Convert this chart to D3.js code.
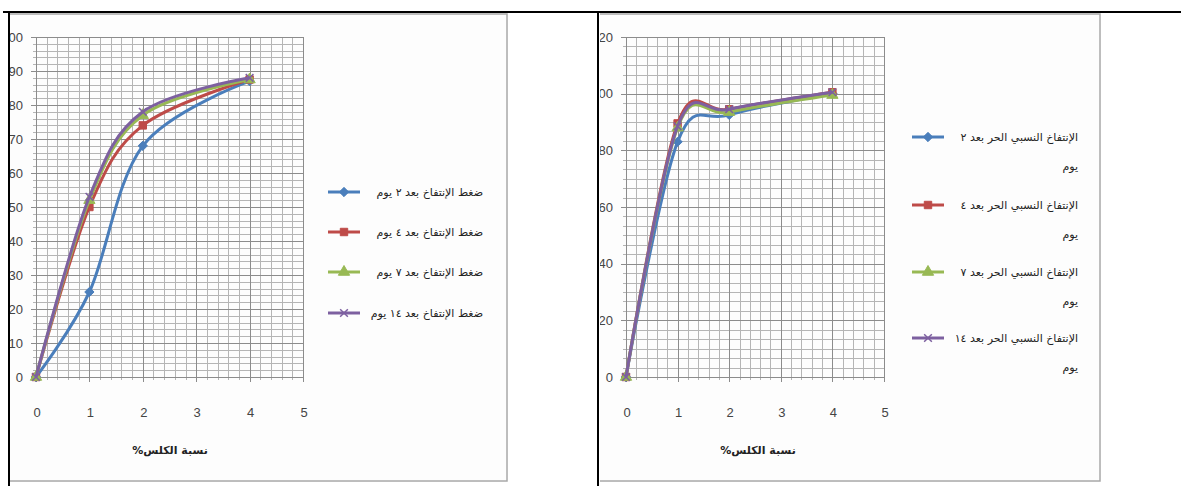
<!DOCTYPE html>
<html lang="ar">
<head>
  <meta charset="UTF-8">
  <script src="https://cdn.jsdelivr.net/npm/d3@7"></script>
  <title>Swell charts</title>
  <style>
    body { margin: 0; background: #fff; }
    svg { display: block; }
    .tick-label { font-family: "Liberation Sans Narrow", "Liberation Sans", Arial, sans-serif; font-size: 13px; fill: #444; }
    .ar { font-family: "DejaVu Sans", sans-serif; fill: #222; }
  </style>
</head>
<body>
<script>
  // x values: lime percentage
  const limePct = [0, 1, 2, 4];

  // left chart: swelling pressure
  const pressureDay2 = [0, 25, 68, 87];
  const pressureDay4 = [0, 50, 74, 87.5];
  const pressureDay7 = [0, 52, 77, 87.5];
  const pressureDay14 = [0, 53, 78, 88];
  const pressureNames = ["ضغط الإنتفاخ بعد ٢ يوم", "ضغط الإنتفاخ بعد ٤ يوم", "ضغط الإنتفاخ بعد ٧ يوم", "ضغط الإنتفاخ بعد ١٤ يوم"];

  // right chart: free relative swell
  const freeSwellDay2 = [0, 83, 92.5, 100];
  const freeSwellDay4 = [0, 89.5, 94.5, 100.5];
  const freeSwellDay7 = [0, 88, 93.5, 99.5];
  const freeSwellDay14 = [0, 88.5, 94.5, 100.5];
  const freeSwellNames = ["الإنتفاخ النسبي الحر بعد ٢", "الإنتفاخ النسبي الحر بعد ٤", "الإنتفاخ النسبي الحر بعد ٧", "الإنتفاخ النسبي الحر بعد ١٤"];

  const xTicks = [0, 1, 2, 3, 4, 5];
  const yTicksLeft = [0, 10, 20, 30, 40, 50, 60, 70, 80, 90, 100];
  const yTicksRight = [0, 20, 40, 60, 80, 100, 120];
  const xTitle = "نسبة الكلس%";

  const colors = ["#4a7ebb", "#be4b48", "#98b954", "#7d60a0"];
  const symbols = [d3.symbolDiamond2, d3.symbolSquare, d3.symbolTriangle, d3.symbolX];

  const W = 1181, H = 486;
  const svg = d3.select("body").append("svg").attr("width", W).attr("height", H);

  // table cell clips
  const defs = svg.append("defs");
  defs.append("clipPath").attr("id", "cellL").append("rect")
    .attr("x", 10).attr("y", 13).attr("width", 587).attr("height", H);
  defs.append("clipPath").attr("id", "cellR").append("rect")
    .attr("x", 600).attr("y", 13).attr("width", 581).attr("height", H);

  function drawChart(cfg) {
    const g = svg.append("g").attr("clip-path", `url(#${cfg.clip})`);

    // chart area frame
    g.append("rect")
      .attr("x", cfg.frame[0]).attr("y", 14)
      .attr("width", cfg.frame[1] - cfg.frame[0]).attr("height", 467)
      .attr("fill", "#fdfdfd").attr("stroke", "#a8a8a8").attr("stroke-width", 1.5);

    const x = d3.scaleLinear().domain([0, 5]).range(cfg.xRange);
    const y = d3.scaleLinear().domain([0, cfg.yMax]).range([377, 37]);

    // minor grid
    const grid = g.append("g").attr("stroke", "#b5b5b5").attr("stroke-width", 1).attr("shape-rendering", "crispEdges");
    const vx = d3.range(0, 5.0001, 0.2);
    grid.selectAll("line.v").data(vx).join("line")
      .attr("x1", d => Math.round(x(d)) + 0.5).attr("x2", d => Math.round(x(d)) + 0.5)
      .attr("y1", y(cfg.yMax)).attr("y2", y(0) + 3);
    const hy = d3.range(0, cfg.yMax + 0.001, cfg.yMinor);
    grid.selectAll("line.h").data(hy).join("line")
      .attr("x1", x(0) - 3).attr("x2", x(5))
      .attr("y1", d => Math.round(y(d)) + 0.5).attr("y2", d => Math.round(y(d)) + 0.5);

    // major grid
    const major = g.append("g").attr("stroke", "#8c8c8c").attr("stroke-width", 1).attr("shape-rendering", "crispEdges");
    major.selectAll("line.v").data(xTicks).join("line")
      .attr("x1", d => Math.round(x(d)) + 0.5).attr("x2", d => Math.round(x(d)) + 0.5)
      .attr("y1", y(cfg.yMax)).attr("y2", y(0) + 5);
    major.selectAll("line.h").data(cfg.yTicks).join("line")
      .attr("x1", x(0) - 5).attr("x2", x(5))
      .attr("y1", d => Math.round(y(d)) + 0.5).attr("y2", d => Math.round(y(d)) + 0.5);

    // tick labels
    g.selectAll("text.yl").data(cfg.yTicks).join("text")
      .attr("class", "tick-label").attr("text-anchor", "end")
      .attr("x", x(0) - 13).attr("y", d => y(d) + 4.5).text(d => d);
    g.selectAll("text.xl").data(xTicks).join("text")
      .attr("class", "tick-label").attr("text-anchor", "middle")
      .attr("x", d => x(d) + 1).attr("y", 417).text(d => d);

    g.append("text").attr("class", "ar").attr("direction", "rtl")
      .attr("text-anchor", "middle").attr("font-size", 11).attr("font-weight", "bold")
      .attr("x", cfg.titleX).attr("y", 454).text(xTitle);

    // series
    const line = d3.line().x((d, i) => x(limePct[i])).y(d => y(d)).curve(d3.curveCardinal.tension(0));
    cfg.series.forEach((s, k) => {
      g.append("path").attr("d", line(s)).attr("fill", "none")
        .attr("stroke", colors[k]).attr("stroke-width", 3).attr("stroke-linejoin", "round");
      const sym = d3.symbol().type(symbols[k]).size(k === 3 ? 40 : 55);
      g.selectAll(null).data(s).join("path")
        .attr("d", sym)
        .attr("transform", (d, i) => `translate(${x(limePct[i])},${y(d)})`)
        .attr("fill", k === 3 ? "none" : colors[k])
        .attr("stroke", colors[k]).attr("stroke-width", k === 3 ? 1.5 : 1);
    });

    // legend
    cfg.names.forEach((name, k) => {
      const ly = cfg.legendY[k];
      const lx = cfg.legendX;
      g.append("line").attr("x1", lx).attr("x2", lx + 32).attr("y1", ly).attr("y2", ly)
        .attr("stroke", colors[k]).attr("stroke-width", 3);
      g.append("path").attr("d", d3.symbol().type(symbols[k]).size(k === 3 ? 40 : 55)())
        .attr("transform", `translate(${lx + 16},${ly})`)
        .attr("fill", k === 3 ? "none" : colors[k]).attr("stroke", colors[k]).attr("stroke-width", k === 3 ? 1.5 : 1);
      g.append("text").attr("class", "ar").attr("direction", "rtl")
        .attr("text-anchor", "start").attr("font-size", 11)
        .attr("x", cfg.legendTextRight).attr("y", ly + 4).text(name);
      if (cfg.wrap) {
        g.append("text").attr("class", "ar").attr("direction", "rtl")
          .attr("text-anchor", "start").attr("font-size", 11)
          .attr("x", cfg.legendTextRight).attr("y", ly + 33).text("يوم");
      }
    });
  }

  drawChart({
    clip: "cellL", frame: [4, 507], xRange: [36, 303], yMax: 100, yMinor: 2, yTicks: yTicksLeft,
    series: [pressureDay2, pressureDay4, pressureDay7, pressureDay14], names: pressureNames,
    titleX: 170, legendX: 328, legendTextRight: 483, legendY: [192, 232, 272, 313], wrap: false
  });
  drawChart({
    clip: "cellR", frame: [594, 1100], xRange: [626, 884], yMax: 120, yMinor: 20 / 6, yTicks: yTicksRight,
    series: [freeSwellDay2, freeSwellDay4, freeSwellDay7, freeSwellDay14], names: freeSwellNames,
    titleX: 758, legendX: 912, legendTextRight: 1078, legendY: [137, 205, 272, 338], wrap: true
  });

  // table borders
  const b = svg.append("g").attr("stroke", "#000").attr("shape-rendering", "crispEdges");
  b.append("line").attr("x1", 3).attr("x2", W).attr("y1", 12).attr("y2", 12).attr("stroke-width", 2);
  b.append("line").attr("x1", 9).attr("x2", 9).attr("y1", 11).attr("y2", H).attr("stroke-width", 2);
  b.append("line").attr("x1", 598).attr("x2", 598).attr("y1", 11).attr("y2", H).attr("stroke-width", 2);
</script>
</body>
</html>
